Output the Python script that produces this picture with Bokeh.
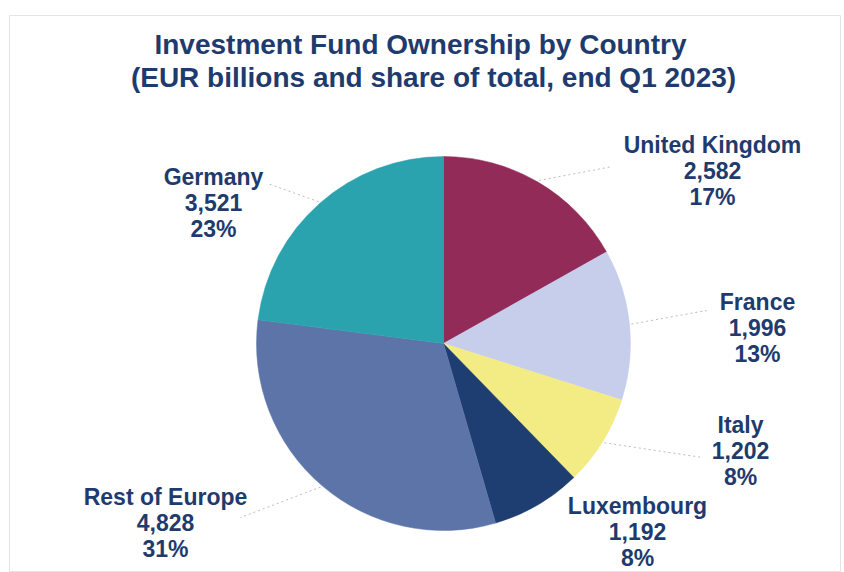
import numpy as np
from bokeh.plotting import figure
from bokeh.models import Range1d, ColumnDataSource
from bokeh.core.properties import value
from bokeh.embed import file_html
from bokeh.resources import INLINE

# ---- data ----
countries = ["United Kingdom", "France", "Italy", "Luxembourg", "Rest of Europe", "Germany"]
amounts = [2582, 1996, 1202, 1192, 4828, 3521]
shares = ["17%", "13%", "8%", "8%", "31%", "23%"]
colors = ["#922B57", "#C6CEEC", "#F3EC85", "#1E3E72", "#5D74A8", "#2AA3AE"]
title_lines = ["Investment Fund Ownership by Country",
               "(EUR billions and share of total, end Q1 2023)"]

# ---- layout (screen pixel positions) ----
TOP = 15
BOTTOM = 572
def Y(sy):
    return BOTTOM - sy

cx, cy, r = 443, Y(343), 187
label_pos = {  # centre of the middle line of each label (screen x, screen y)
    "United Kingdom": (712, 170),
    "France": (757, 327),
    "Italy": (740, 450),
    "Luxembourg": (637, 531),
    "Rest of Europe": (165, 522),
    "Germany": (213, 202),
}
LINE = 26
leader_end = {
    "United Kingdom": (612, 166),
    "France": (706, 310),
    "Italy": (702, 457),
    "Rest of Europe": (240, 517),
    "Germany": (267, 183),
}

TXT = "#1F3B6E"
FONT = value("Liberation Sans")

W, H = 844, 572
p = figure(width=W, height=H, output_backend="svg", toolbar_location=None,
           x_range=Range1d(9, 840), y_range=Range1d(0, BOTTOM - TOP),
           min_border_left=9, min_border_top=TOP, min_border_right=4,
           min_border_bottom=0, x_axis_location=None, y_axis_location=None)
p.grid.visible = False
p.outline_line_color = "#E4E4E4"
p.outline_line_width = 1
p.background_fill_color = "white"
p.border_fill_color = "white"

vals = np.array(amounts, dtype=float)
frac = vals / vals.sum()
cum = np.cumsum(frac)
before = cum - frac
start = np.pi / 2 - 2 * np.pi * before
end = np.pi / 2 - 2 * np.pi * cum
mid = (start + end) / 2

src = ColumnDataSource(dict(start=start, end=end, color=colors))
p.wedge(x=cx, y=cy, radius=r, start_angle="start", end_angle="end",
        direction="clock", fill_color="color", line_color="color", line_width=0.5,
        source=src)

# leader lines
x0, y0, x1, y1 = [], [], [], []
for i, c in enumerate(countries):
    if c in leader_end:
        x0.append(cx + 1.01 * r * np.cos(mid[i]))
        y0.append(cy + 1.01 * r * np.sin(mid[i]))
        ex, ey = leader_end[c]
        x1.append(ex)
        y1.append(Y(ey))
p.segment(x0=x0, y0=y0, x1=x1, y1=y1, line_color="#BDBDBD", line_width=1,
          line_dash="2 3")

# labels (three lines each)
lx = [label_pos[c][0] for c in countries]
lmid = [Y(label_pos[c][1]) for c in countries]
rows = [
    (list(countries), LINE),
    ([f"{a:,}" for a in amounts], 0),
    (list(shares), -LINE),
]
for txt, off in rows:
    p.text(x=lx, y=[v + off for v in lmid], text=txt, text_align="center",
           text_baseline="middle", text_font=FONT, text_font_style="bold",
           text_font_size="23px", text_color=TXT)

# title
p.text(x=[420, 433], y=[Y(44), Y(77)], text=title_lines, text_align="center",
       text_baseline="middle", text_font=FONT, text_font_style="bold",
       text_font_size="28px", text_color=TXT)

open("out.html", "w").write(file_html(p, INLINE))
